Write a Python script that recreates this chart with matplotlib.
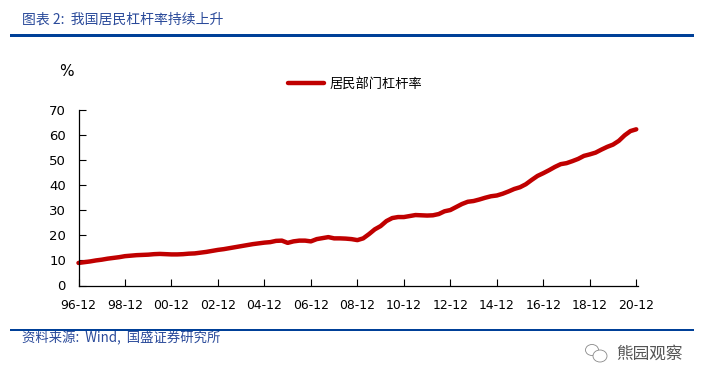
import matplotlib
matplotlib.use("Agg")
import matplotlib.pyplot as plt
from matplotlib.patches import Ellipse, Rectangle

CJK = ['Noto Sans CJK SC', 'DejaVu Sans']
W, H = 706, 386

series_name = '居民部门杠杆率'
tick_labels = ['96-12', '98-12', '00-12', '02-12', '04-12', '06-12', '08-12',
               '10-12', '12-12', '14-12', '16-12', '18-12', '20-12']
yticks = [0, 10, 20, 30, 40, 50, 60, 70]
# quarterly, 1996-12 to 2020-12
leverage = [
    9.0, 9.3, 9.6, 10.0, 10.3,
    10.7, 11.0, 11.3, 11.7,
    11.9, 12.1, 12.2, 12.3,
    12.5, 12.6, 12.5, 12.4,
    12.4, 12.5, 12.7, 12.8,
    13.1, 13.4, 13.8, 14.2,
    14.5, 14.9, 15.3, 15.7,
    16.1, 16.5, 16.8, 17.1,
    17.3, 17.8, 17.9, 17.0,
    17.6, 17.9, 17.9, 17.6,
    18.5, 18.9, 19.3, 18.8,
    18.8, 18.7, 18.5, 18.1,
    18.8, 20.5, 22.4, 23.7,
    25.7, 26.9, 27.3, 27.3,
    27.7, 28.1, 28.0, 27.9,
    28.0, 28.5, 29.6, 30.1,
    31.3, 32.5, 33.4, 33.7,
    34.3, 35.0, 35.6, 35.9,
    36.6, 37.5, 38.5, 39.2,
    40.4, 42.1, 43.7, 44.8,
    46.0, 47.3, 48.4, 48.8,
    49.6, 50.5, 51.7, 52.3,
    53.0, 54.2, 55.3, 56.2,
    57.7, 59.9, 61.6, 62.3,
]
xpos = list(range(len(leverage)))
tick_step = 8

fig = plt.figure(figsize=(W / 100, H / 100), dpi=100, facecolor='white')
left, right, top, bottom = 78.5, 637.7, 110.0, 285.5
ax = fig.add_axes([left / W, 1 - bottom / H, (right - left) / W, (bottom - top) / H])

line, = ax.plot(xpos, leverage, color='#c00000', lw=3.2, solid_capstyle='round',
                solid_joinstyle='round', clip_on=False, label=series_name)
ax.set_xlim(0, (right - left) / 5.81)
ax.set_ylim(0, 70)
ax.set_yticks(yticks)
ax.set_xticks(xpos[::tick_step])
ax.set_xticklabels(tick_labels)
for s in ('top', 'right'):
    ax.spines[s].set_visible(False)
for s in ('left', 'bottom'):
    ax.spines[s].set_linewidth(0.9)
ax.tick_params(axis='y', direction='in', length=5, width=0.8, pad=9, labelsize=9.5, colors='black')
ax.tick_params(axis='x', direction='in', length=5, width=0.8, pad=10, labelsize=8.9, colors='black')

ax.legend(handles=[line], loc='center', bbox_to_anchor=(355 / W, 1 - 84.5 / H),
          bbox_transform=fig.transFigure, frameon=False, handlelength=2.75,
          handletextpad=0.35, prop={'family': CJK, 'size': 9.5})

fig.text(66 / W, 1 - 71 / H, '%', fontsize=11, ha='center', va='center', color='black')

navy = '#2a4a9a'
fig.text(22 / W, 1 - 20 / H, '图表 2:  我国居民杠杆率持续上升', fontsize=10, family=CJK,
         color=navy, style='italic', ha='left', va='center')
fig.text(22 / W, 1 - 338.5 / H, '资料来源:  Wind,  国盛证券研究所', fontsize=9.6, family=CJK,
         color=navy, style='italic', ha='left', va='center')

for y, t in ((35.5, 3), (330, 2)):
    fig.add_artist(Rectangle((10 / W, 1 - (y + t / 2) / H), 684 / W, t / H,
                             transform=fig.transFigure, color='#004098', lw=0))

# watermark
fig.text(616.5 / W, 1 - 354.5 / H, '熊园观察', fontsize=12, family=CJK, color='#555555',
         ha='left', va='center')
for cx, cy, w, h in ((592, 350, 13, 11), (600, 356, 14, 12)):
    fig.add_artist(Ellipse((cx / W, 1 - cy / H), w / W, h / H, transform=fig.transFigure,
                           fill=True, facecolor='white', edgecolor='#888888', lw=0.6))

fig.savefig('out.png', dpi=100)
